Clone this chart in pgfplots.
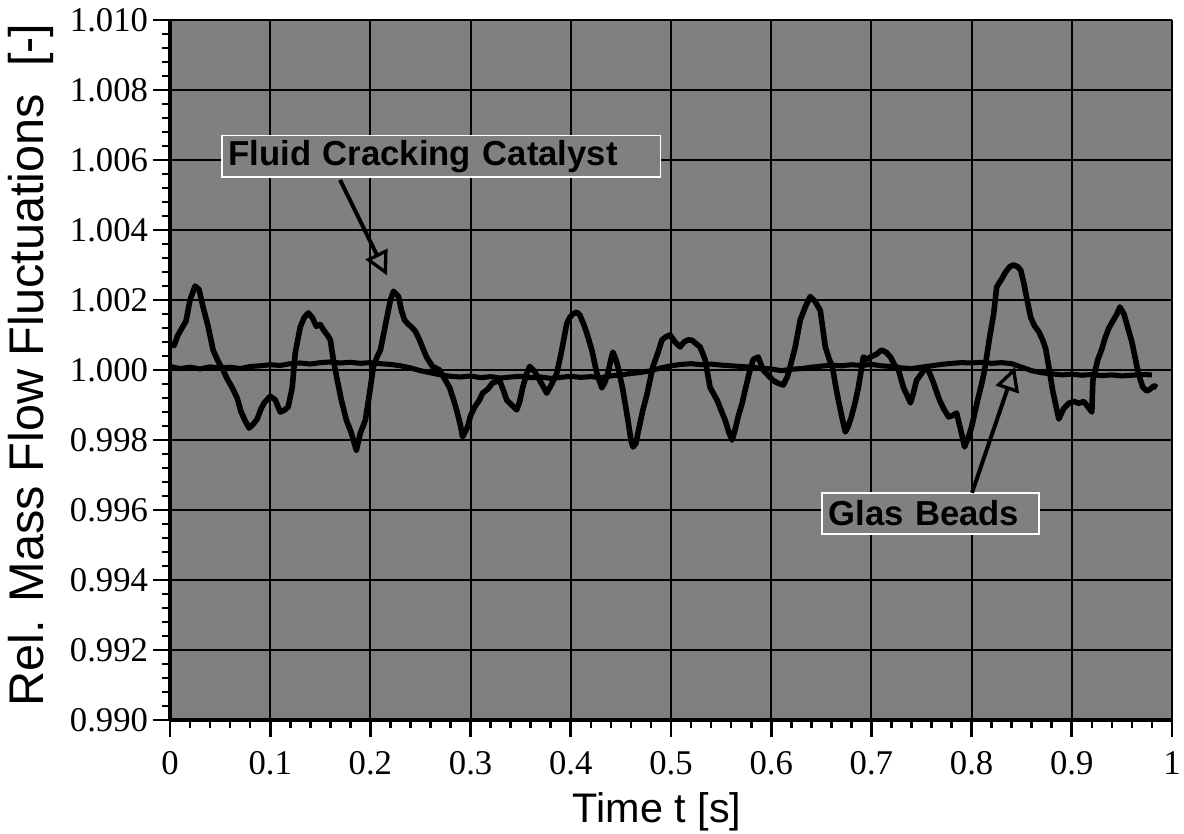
\documentclass[border=0pt]{standalone}
\usepackage{pgfplots}
\pgfplotsset{compat=1.18}
\usepackage{fontspec}
\setmainfont{Liberation Serif}
\newfontfamily\arial{Liberation Sans}
\usetikzlibrary{arrows.meta}
\begin{document}
\begin{tikzpicture}
\begin{axis}[
  scale only axis,
  width=751.5pt, height=525pt,
  xmin=0, xmax=1, ymin=0.990, ymax=1.010,
  xtick={0,0.1,0.2,0.3,0.4,0.5,0.6,0.7,0.8,0.9,1},
  ytick={0.990,0.992,0.994,0.996,0.998,1.000,1.002,1.004,1.006,1.008,1.010},
  minor x tick num=4, minor y tick num=4,
  axis lines*=left,
  axis line style={line width=2.4pt, black},
  tick align=outside,
  major tick length=13pt, minor tick length=6pt,
  every tick/.style={black, line width=2pt},
  grid=major,
  major grid style={black, line width=1.6pt},
  axis background/.style={fill=gray},
  ticklabel style={font=\fontsize{26}{30}\selectfont},
  xticklabel style={yshift=-7pt, /pgf/number format/.cd, fixed, precision=1, assume math mode=true},
  yticklabel style={/pgf/number format/.cd, fixed, fixed zerofill, precision=3, assume math mode=true},
  xlabel={Time t [s]},
  ylabel={Rel. Mass Flow Fluctuations\ \ [-]},
  xlabel style={font=\arial\fontsize{31}{36}\selectfont, at={(axis description cs:0.486,-0.131)}, anchor=center},
  ylabel style={font=\arial\fontsize{36.5}{40}\selectfont, at={(axis description cs:-0.139,0.507)}, anchor=center},
  clip=false,
]
% Glass beads
\addplot[black, line width=3.8pt, line join=round] coordinates {
(0.000,1.00010)(0.010,1.00004)(0.020,1.00008)(0.030,1.00003)(0.040,1.00009)
(0.050,1.00005)(0.060,1.00008)(0.070,1.00004)(0.080,1.00010)(0.090,1.00012)
(0.100,1.00015)(0.110,1.00013)(0.120,1.00018)(0.130,1.00020)(0.140,1.00017)
(0.150,1.00021)(0.160,1.00023)(0.170,1.00020)(0.180,1.00022)(0.190,1.00019)
(0.200,1.00021)(0.210,1.00018)(0.220,1.00016)(0.230,1.00012)(0.240,1.00006)
(0.250,0.99998)(0.260,0.99992)(0.270,0.99986)(0.280,0.99982)(0.290,0.99980)
(0.300,0.99983)(0.310,0.99978)(0.320,0.99981)(0.330,0.99977)(0.340,0.99980)
(0.350,0.99982)(0.360,0.99978)(0.370,0.99980)(0.380,0.99976)(0.390,0.99979)
(0.400,0.99982)(0.410,0.99979)(0.420,0.99981)(0.430,0.99978)(0.440,0.99983)
(0.450,0.99986)(0.460,0.99990)(0.470,0.99993)(0.480,0.99998)(0.490,1.00006)
(0.500,1.00012)(0.510,1.00016)(0.520,1.00018)(0.530,1.00015)(0.540,1.00017)
(0.550,1.00014)(0.560,1.00012)(0.570,1.00010)(0.580,1.00008)(0.590,1.00005)
(0.600,1.00003)(0.610,0.99998)(0.620,1.00002)(0.630,1.00004)(0.640,1.00008)
(0.650,1.00011)(0.660,1.00014)(0.670,1.00012)(0.680,1.00015)(0.690,1.00013)
(0.700,1.00016)(0.710,1.00012)(0.720,1.00010)(0.730,1.00006)(0.740,1.00004)
(0.750,1.00008)(0.760,1.00012)(0.770,1.00016)(0.780,1.00019)(0.790,1.00021)
(0.800,1.00020)(0.810,1.00022)(0.820,1.00019)(0.830,1.00021)(0.840,1.00018)
(0.850,1.00008)(0.860,0.99998)(0.870,0.99992)(0.880,0.99989)(0.890,0.99986)
(0.900,0.99988)(0.910,0.99985)(0.920,0.99987)(0.930,0.99984)(0.940,0.99986)
(0.950,0.99983)(0.960,0.99985)(0.970,0.99987)(0.980,0.99986)
};
% Fluid cracking catalyst
\addplot[black, line width=4.2pt, line join=round] coordinates {
(0.000,1.00075)(0.004,1.00070)(0.008,1.00100)(0.012,1.00120)(0.016,1.00140)
(0.020,1.00200)(0.025,1.00240)(0.029,1.00230)(0.033,1.00180)(0.038,1.00125)
(0.043,1.00057)(0.048,1.00025)(0.053,1.00000)(0.057,0.99975)(0.062,0.99950)
(0.067,0.99920)(0.071,0.99880)(0.075,0.99855)(0.079,0.99834)(0.083,0.99845)
(0.087,0.99860)(0.091,0.99890)(0.094,0.99906)(0.100,0.99925)(0.105,0.99915)
(0.110,0.99880)(0.114,0.99885)(0.118,0.99895)(0.122,0.99950)(0.125,1.00049)
(0.130,1.00123)(0.134,1.00150)(0.138,1.00163)(0.142,1.00150)(0.146,1.00125)
(0.150,1.00130)(0.153,1.00115)(0.157,1.00100)(0.160,1.00086)(0.163,1.00030)
(0.167,0.99970)(0.171,0.99914)(0.176,0.99857)(0.181,0.99820)(0.184,0.99790)
(0.186,0.99771)(0.190,0.99820)(0.195,0.99857)(0.200,0.99950)(0.203,1.00010)
(0.207,1.00040)(0.210,1.00057)(0.216,1.00143)(0.220,1.00200)(0.223,1.00225)
(0.228,1.00210)(0.231,1.00170)(0.234,1.00143)(0.238,1.00130)(0.241,1.00123)
(0.245,1.00110)(0.249,1.00086)(0.256,1.00037)(0.262,1.00010)(0.269,1.00000)
(0.275,0.99970)(0.279,0.99950)(0.283,0.99915)(0.286,0.99886)(0.290,0.99840)
(0.292,0.99809)(0.297,0.99837)(0.300,0.99870)(0.304,0.99894)(0.309,0.99915)
(0.312,0.99934)(0.317,0.99945)(0.322,0.99963)(0.329,0.99970)(0.333,0.99940)
(0.336,0.99914)(0.341,0.99900)(0.346,0.99886)(0.349,0.99910)(0.352,0.99950)
(0.356,0.99990)(0.359,1.00010)(0.364,0.99995)(0.369,0.99970)(0.373,0.99950)
(0.376,0.99934)(0.381,0.99960)(0.386,0.99990)(0.391,1.00057)(0.396,1.00133)
(0.399,1.00150)(0.402,1.00160)(0.406,1.00165)(0.409,1.00157)(0.413,1.00130)
(0.416,1.00105)(0.421,1.00057)(0.426,0.99990)(0.431,0.99949)(0.434,0.99965)
(0.437,0.99990)(0.440,1.00030)(0.442,1.00051)(0.445,1.00030)(0.447,1.00010)
(0.452,0.99943)(0.457,0.99857)(0.460,0.99800)(0.462,0.99780)(0.465,0.99790)
(0.467,0.99820)(0.472,0.99886)(0.476,0.99930)(0.479,0.99970)(0.482,1.00010)
(0.487,1.00050)(0.491,1.00086)(0.495,1.00095)(0.499,1.00100)(0.504,1.00080)
(0.509,1.00066)(0.513,1.00080)(0.517,1.00086)(0.521,1.00085)(0.525,1.00075)
(0.529,1.00066)(0.534,1.00030)(0.539,0.99950)(0.546,0.99914)(0.550,0.99885)
(0.554,0.99857)(0.558,0.99820)(0.561,0.99800)(0.564,0.99830)(0.567,0.99866)
(0.571,0.99905)(0.574,0.99943)(0.578,0.99990)(0.582,1.00030)(0.587,1.00037)
(0.592,1.00000)(0.597,0.99985)(0.602,0.99970)(0.607,0.99962)(0.612,0.99957)
(0.616,0.99980)(0.619,1.00010)(0.624,1.00066)(0.629,1.00143)(0.634,1.00180)
(0.639,1.00210)(0.644,1.00195)(0.649,1.00170)(0.654,1.00066)(0.658,1.00030)
(0.661,1.00010)(0.664,0.99960)(0.667,0.99914)(0.671,0.99860)(0.674,0.99823)
(0.677,0.99840)(0.680,0.99866)(0.684,0.99910)(0.687,0.99950)(0.692,1.00037)
(0.696,1.00030)(0.699,1.00037)(0.705,1.00045)(0.710,1.00057)(0.715,1.00050)
(0.719,1.00037)(0.723,1.00015)(0.727,1.00000)(0.732,0.99950)(0.736,0.99925)
(0.739,0.99906)(0.742,0.99935)(0.745,0.99970)(0.750,0.99990)(0.755,1.00010)
(0.759,0.99985)(0.762,0.99963)(0.766,0.99930)(0.768,0.99914)(0.772,0.99890)
(0.777,0.99866)(0.781,0.99870)(0.785,0.99877)(0.789,0.99830)(0.793,0.99780)
(0.797,0.99810)(0.800,0.99837)(0.806,0.99914)(0.810,0.99960)(0.813,1.00000)
(0.818,1.00094)(0.822,1.00160)(0.825,1.00237)(0.830,1.00260)(0.834,1.00280)
(0.838,1.00295)(0.842,1.00300)(0.846,1.00295)(0.849,1.00285)(0.852,1.00250)
(0.854,1.00220)(0.859,1.00150)(0.863,1.00125)(0.867,1.00110)(0.871,1.00085)
(0.874,1.00060)(0.877,1.00010)(0.881,0.99940)(0.884,0.99900)(0.887,0.99860)
(0.892,0.99890)(0.897,0.99905)(0.902,0.99910)(0.907,0.99905)(0.912,0.99910)
(0.916,0.99895)(0.920,0.99880)(0.921,0.99970)(0.926,1.00030)(0.930,1.00060)
(0.933,1.00090)(0.937,1.00120)(0.941,1.00140)(0.945,1.00160)(0.948,1.00180)
(0.952,1.00160)(0.955,1.00130)(0.960,1.00080)(0.965,1.00010)(0.968,0.99975)
(0.971,0.99950)(0.975,0.99940)(0.978,0.99945)(0.982,0.99955)(0.985,0.99950)
};
% annotations
\node[draw=white, line width=1.2pt, fill=gray, anchor=west, inner xsep=5pt, inner ysep=0pt,
      minimum height=31pt, text width=319pt, align=left,
      font=\arial\bfseries\fontsize{26}{30}\selectfont]
  at (axis cs:0.0509,1.00611) {Fluid Cracking Catalyst};
\draw[black, line width=3pt, -{Triangle[open, length=18pt, width=18pt, line width=2.5pt]}]
  (axis cs:0.1697,1.00543) -- (axis cs:0.2166,1.00270);
\node[draw=white, line width=1.2pt, fill=gray, anchor=west, inner xsep=5pt, inner ysep=0pt,
      minimum height=31pt, text width=153pt, align=left,
      font=\arial\bfseries\fontsize{26}{30}\selectfont]
  at (axis cs:0.6497,0.99590) {Glas Beads};
\draw[black, line width=3pt, -{Triangle[open, length=18pt, width=18pt, line width=2.5pt]}]
  (axis cs:0.8004,0.99649) -- (axis cs:0.8433,1.00009);
\end{axis}
\pgfresetboundingbox
\path (-127.5pt,-85.5pt) rectangle (760.5pt,540pt);
\end{tikzpicture}
\end{document}
